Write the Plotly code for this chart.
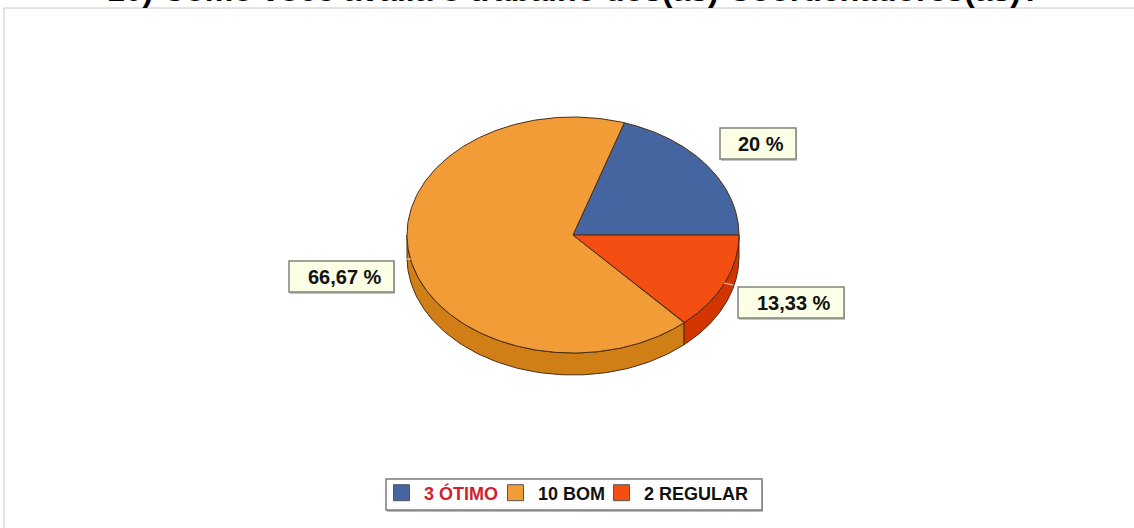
import numpy as np
import plotly.graph_objects as go

# Data
categories = ["ÓTIMO", "BOM", "REGULAR"]
counts = [3, 10, 2]
percent_labels = ["20 %", "66,67 %", "13,33 %"]
title_text = "10) Como você avalia o trabalho dos(as) Coordenadores(as)?"

# Styling
top_colors = ["#44659F", "#F29C37", "#F44E12"]
side_colors = ["#34507F", "#D07F17", "#D33500"]
outline = "#4A2C14"
legend_text_colors = ["#D4202C", "#111111", "#111111"]
legend_names = ["legend", "legend2", "legend3"]
legend_left = [379, 493, 599]
W, H = 1134, 528
CX, CY, RX, RY, DEPTH = 573, 235, 166, 118, 22
label_boxes = [(720, 128, 796, 159), (289, 261, 394, 292), (738, 287, 844, 318)]


def ell(t_deg, dy=0):
    t = np.radians(t_deg)
    return CX + RX * np.cos(t), CY - RY * np.sin(t) + dy


fig = go.Figure()
total = sum(counts)
start = 0.0
spans = []
for c in counts:
    spans.append((start, start + 360.0 * c / total))
    start += 360.0 * c / total

# side wall (only the part facing the viewer)
for (a, b), col in zip(spans, side_colors):
    lo, hi = max(a, 180), min(b, 360)
    if hi <= lo:
        continue
    t = np.linspace(lo, hi, 120)
    x1, y1 = ell(t)
    x2, y2 = ell(t[::-1], DEPTH)
    fig.add_trace(go.Scatter(x=np.r_[x1, x2, x1[0]], y=np.r_[y1, y2, y1[0]], mode="lines",
                             fill="toself", fillcolor=col, line=dict(color=outline, width=1),
                             showlegend=False, hoverinfo="skip"))

# top slices
for (a, b), col, cat, c in zip(spans, top_colors, categories, counts):
    t = np.linspace(a, b, 240)
    x, y = ell(t)
    fig.add_trace(go.Scatter(x=np.r_[CX, x, CX], y=np.r_[CY, y, CY], mode="lines",
                             fill="toself", fillcolor=col, line=dict(color=outline, width=1),
                             showlegend=False, name=cat, text=f"{c} {cat}", hoverinfo="text"))

# legend entries
for cat, c, col, tc, ln in zip(categories, counts, top_colors, legend_text_colors, legend_names):
    fig.add_trace(go.Scatter(x=[None], y=[None], mode="markers", legend=ln,
                             marker=dict(symbol="square", size=18, color=col, line=dict(color="#555555", width=1)),
                             name=f'<span style="color:{tc}">{c} {cat}</span>'))

shapes = [
    dict(type="line", x0=4, x1=4, y0=8, y1=H, line=dict(color="#C8C8C8", width=1)),
    dict(type="line", x0=4, x1=W, y0=8, y1=8, line=dict(color="#C8C8C8", width=1)),
    dict(type="rect", x0=387, x1=763, y0=481, y1=512, fillcolor="#BBBBBB", line_width=0),
    dict(type="rect", x0=386, x1=762, y0=479, y1=510, fillcolor="white", line=dict(color="#7A7A7A", width=1.5)),
    dict(type="line", x0=724, x1=733, y0=283, y1=285, line=dict(color="#F8D8C8", width=1), layer="above"),
    dict(type="line", x0=407, x1=411, y0=259, y1=259, line=dict(color="#F8E8D0", width=1), layer="above"),
]
annotations = [dict(x=574, y=10, text=f"<b>{title_text}</b>", showarrow=False, yanchor="bottom",
                    font=dict(family="Liberation Sans", size=32, color="#000000"))]
for (x0, y0, x1, y1), lab in zip(label_boxes, percent_labels):
    shapes.append(dict(type="rect", x0=x0 + 1, x1=x1 + 1, y0=y0 + 1, y1=y1 + 2, fillcolor="#C4C4C4", line_width=0))
    shapes.append(dict(type="rect", x0=x0, x1=x1, y0=y0, y1=y1, fillcolor="#FDFEE6",
                       line=dict(color="#7F8578", width=1.5)))
    annotations.append(dict(x=(x0 + x1) / 2 + 3, y=(y0 + y1) / 2, text=f"<b>{lab}</b>", showarrow=False,
                            font=dict(family="Liberation Sans", size=20, color="#111111")))

legend_style = dict(orientation="h", xanchor="left", y=1 - 493 / H, yanchor="middle",
                    bgcolor="rgba(0,0,0,0)", borderwidth=0, itemwidth=35,
                    font=dict(family="Liberation Sans", size=18, color="#111111", weight="bold"),
                    itemclick=False, itemdoubleclick=False)

fig.update_layout(
    width=W, height=H, margin=dict(l=0, r=0, t=0, b=0),
    paper_bgcolor="white", plot_bgcolor="white",
    xaxis=dict(range=[0, W], visible=False, fixedrange=True),
    yaxis=dict(range=[H, 0], visible=False, fixedrange=True),
    shapes=shapes, annotations=annotations,
    **{ln: dict(legend_style, x=left / W) for ln, left in zip(legend_names, legend_left)},
)
fig.write_html("out.html", config={"displayModeBar": False},
               post_script="document.body.style.margin='0';document.documentElement.style.overflow='hidden';")
